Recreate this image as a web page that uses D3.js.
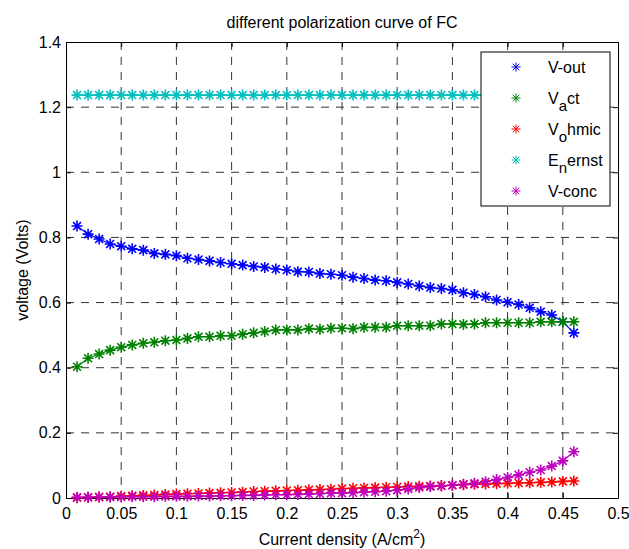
<!DOCTYPE html>
<html>
<head>
<meta charset="utf-8">
<script src="https://cdn.jsdelivr.net/npm/d3@7"></script>
<style>
  body { margin: 0; background: #fff; }
  svg { font-family: "Liberation Sans", Arial, Helvetica, sans-serif; }
</style>
</head>
<body>
<svg id="chart" width="629" height="549"></svg>
<script>
// Data
const currentDensity = [0.01,0.02,0.03,0.04,0.05,0.06,0.07,0.08,0.09,0.10,
  0.11,0.12,0.13,0.14,0.15,0.16,0.17,0.18,0.19,0.20,
  0.21,0.22,0.23,0.24,0.25,0.26,0.27,0.28,0.29,0.30,
  0.31,0.32,0.33,0.34,0.35,0.36,0.37,0.38,0.39,0.40,
  0.41,0.42,0.43,0.44,0.45,0.46];

const vOut = [0.835,0.810,0.795,0.780,0.773,0.765,0.761,0.751,0.748,0.744,
  0.736,0.732,0.728,0.723,0.719,0.715,0.711,0.708,0.703,0.700,
  0.695,0.694,0.689,0.687,0.684,0.678,0.674,0.669,0.667,0.662,
  0.657,0.651,0.646,0.643,0.639,0.630,0.625,0.618,0.608,0.601,
  0.594,0.584,0.572,0.562,0.541,0.507];

const vAct = [0.403,0.429,0.442,0.454,0.463,0.470,0.475,0.478,0.483,0.485,
  0.490,0.495,0.495,0.498,0.498,0.503,0.507,0.511,0.516,0.516,
  0.516,0.520,0.518,0.521,0.521,0.520,0.524,0.524,0.524,0.529,
  0.529,0.529,0.529,0.534,0.534,0.533,0.534,0.538,0.538,0.538,
  0.538,0.538,0.541,0.541,0.541,0.541];

const vOhmic = [0.001,0.002,0.003,0.004,0.006,0.007,0.008,0.009,0.011,0.012,
  0.013,0.014,0.015,0.016,0.017,0.018,0.020,0.021,0.022,0.023,
  0.024,0.025,0.026,0.027,0.029,0.030,0.031,0.032,0.033,0.034,
  0.035,0.036,0.037,0.038,0.039,0.041,0.042,0.043,0.044,0.045,
  0.046,0.047,0.048,0.049,0.051,0.052];

const eNernst = [1.237,1.237,1.237,1.237,1.237,1.237,1.237,1.237,1.237,1.237,
  1.237,1.237,1.237,1.237,1.237,1.237,1.237,1.237,1.237,1.237,
  1.237,1.237,1.237,1.237,1.237,1.237,1.237,1.237,1.237,1.237,
  1.237,1.237,1.237,1.237,1.237,1.237,1.237,1.237,1.237,1.237,
  1.237,1.237,1.237,1.237,1.237,1.237];

const vConc = [0.002,0.002,0.003,0.003,0.003,0.004,0.004,0.004,0.005,0.005,
  0.005,0.006,0.006,0.007,0.007,0.008,0.008,0.009,0.010,0.010,
  0.011,0.012,0.013,0.015,0.015,0.016,0.018,0.019,0.021,0.024,
  0.028,0.032,0.035,0.037,0.039,0.042,0.045,0.050,0.057,0.063,
  0.071,0.079,0.086,0.098,0.114,0.142];

const xTicks = [0,0.05,0.1,0.15,0.2,0.25,0.3,0.35,0.4,0.45,0.5];
const yTicks = [0,0.2,0.4,0.6,0.8,1,1.2,1.4];

const seriesList = [
  { name: "V-out",   label: ["V-out"],          color: "#0000ff", values: vOut },
  { name: "V_act",   label: ["V", "a", "ct"],   color: "#008000", values: vAct },
  { name: "V_ohmic", label: ["V", "o", "hmic"], color: "#ff0000", values: vOhmic },
  { name: "E_nernst",label: ["E", "n", "ernst"],color: "#00bfbf", values: eNernst },
  { name: "V-conc",  label: ["V-conc"],         color: "#bf00bf", values: vConc }
];

// Layout
const margin = { left: 66, top: 42, right: 11, bottom: 51 };
const W = 629, H = 549;
const plotW = W - margin.left - margin.right;
const plotH = H - margin.top - margin.bottom;
const fontSize = "16px";

const svg = d3.select("#chart");
const g = svg.append("g").attr("transform", `translate(${margin.left},${margin.top})`);

const x = d3.scaleLinear().domain([0, 0.5]).range([0, plotW]);
const y = d3.scaleLinear().domain([0, 1.4]).range([plotH, 0]);

// dashed grid
g.append("g").selectAll("line.gx")
  .data(xTicks.slice(1, -1))
  .join("line")
  .attr("x1", d => x(d)).attr("x2", d => x(d))
  .attr("y1", 0).attr("y2", plotH)
  .attr("stroke", "#333").attr("stroke-width", 1)
  .attr("stroke-dasharray", "8,7");

g.append("g").selectAll("line.gy")
  .data(yTicks.slice(1, -1))
  .join("line")
  .attr("x1", 0).attr("x2", plotW)
  .attr("y1", d => y(d)).attr("y2", d => y(d))
  .attr("stroke", "#333").attr("stroke-width", 1)
  .attr("stroke-dasharray", "8,7");

// axes (MATLAB style: ticks inward, box on)
const fmt = d => String(+d.toFixed(2));
const xAxis = d3.axisBottom(x).tickValues(xTicks).tickSizeInner(-5).tickSizeOuter(0).tickPadding(10).tickFormat(fmt);
const yAxis = d3.axisLeft(y).tickValues(yTicks).tickSizeInner(-5).tickSizeOuter(0).tickPadding(5).tickFormat(fmt);
const xTop = d3.axisTop(x).tickValues(xTicks).tickSizeInner(-5).tickSizeOuter(0).tickFormat("");
const yRight = d3.axisRight(y).tickValues(yTicks).tickSizeInner(-5).tickSizeOuter(0).tickFormat("");

function styleAxis(sel) {
  sel.select(".domain").attr("stroke", "#000");
  sel.selectAll(".tick line").attr("stroke", "#000");
  sel.selectAll("text").attr("fill", "#000").style("font-size", fontSize)
    .style("font-family", "'Liberation Sans', Arial, sans-serif");
}

g.append("g").attr("transform", `translate(0,${plotH})`).call(xAxis).call(styleAxis);
g.append("g").call(yAxis).call(styleAxis);
g.append("g").call(xTop).call(styleAxis);
g.append("g").attr("transform", `translate(${plotW},0)`).call(yRight).call(styleAxis);

// asterisk marker
function starPath(r) {
  const d = r * 0.72;
  return `M${-r},0L${r},0M0,${-r}L0,${r}M${-d},${-d}L${d},${d}M${-d},${d}L${d},${-d}`;
}

const line = d3.line()
  .x((d, i) => x(currentDensity[i]))
  .y(d => y(d));

seriesList.forEach(s => {
  const sg = g.append("g").attr("class", "series");
  sg.append("path")
    .attr("d", line(s.values))
    .attr("fill", "none")
    .attr("stroke", s.color)
    .attr("stroke-width", 1.2);
  sg.selectAll("path.mk")
    .data(s.values)
    .join("path")
    .attr("class", "mk")
    .attr("transform", (d, i) => `translate(${x(currentDensity[i])},${y(d)})`)
    .attr("d", starPath(5.5))
    .attr("fill", "none")
    .attr("stroke", s.color)
    .attr("stroke-width", 1.6);
});

// legend
const legend = g.append("g").attr("transform", `translate(${415},${10})`);
legend.append("rect")
  .attr("x", 0).attr("y", 0)
  .attr("width", 129).attr("height", 154)
  .attr("fill", "#fff").attr("stroke", "#000").attr("stroke-width", 1);

seriesList.forEach((s, i) => {
  const ry = 15 + i * 31;
  legend.append("path")
    .attr("transform", `translate(35,${ry})`)
    .attr("d", starPath(4.5))
    .attr("fill", "none")
    .attr("stroke", s.color)
    .attr("stroke-width", 1);
  const t = legend.append("text")
    .attr("x", 67).attr("y", ry + 6)
    .style("font-size", fontSize)
    .attr("fill", "#000");
  t.append("tspan").text(s.label[0]);
  if (s.label.length > 1) {
    t.append("tspan").attr("dy", 7).style("font-size", "15px").text(s.label[1]);
    t.append("tspan").attr("dy", -7).text(s.label[2]);
  }
});

// title and axis labels
svg.append("text")
  .attr("x", margin.left + plotW / 2).attr("y", 28)
  .attr("text-anchor", "middle")
  .style("font-size", fontSize)
  .text("different polarization curve of FC");

const xl = svg.append("text")
  .attr("x", margin.left + plotW / 2).attr("y", 545)
  .attr("text-anchor", "middle")
  .style("font-size", fontSize);
xl.append("tspan").text("Current density (A/cm");
xl.append("tspan").attr("dy", -7).style("font-size", "12px").text("2");
xl.append("tspan").attr("dy", 7).text(")");

svg.append("text")
  .attr("transform", `translate(28,${margin.top + plotH / 2}) rotate(-90)`)
  .attr("text-anchor", "middle")
  .style("font-size", fontSize)
  .text("voltage (Volts)");
</script>
</body>
</html>
